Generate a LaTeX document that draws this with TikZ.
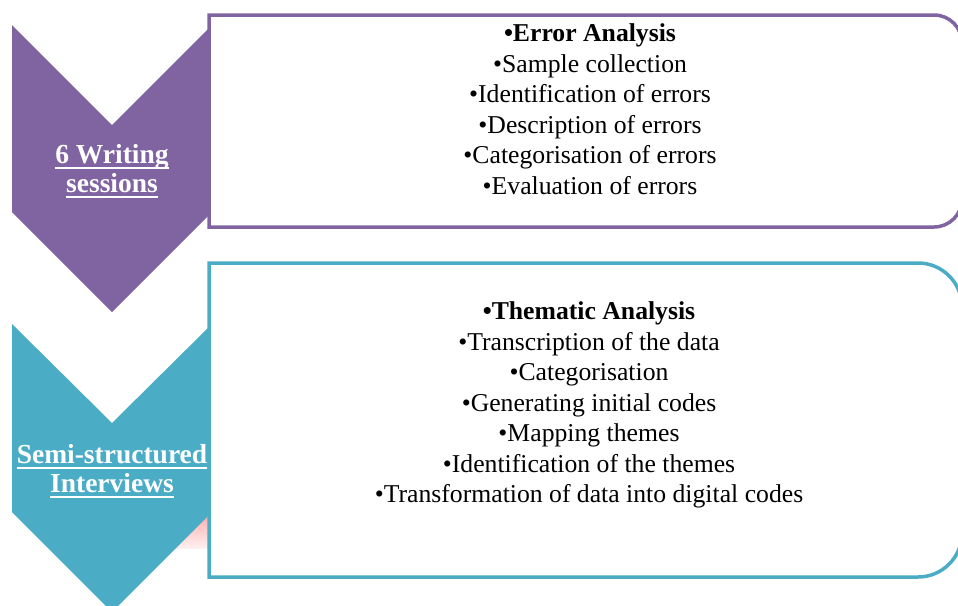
\documentclass[tikz,border=0pt]{standalone}
\usepackage{fontspec}
\setmainfont{Liberation Serif}
\definecolor{chvPurple}{HTML}{8064A2}
\definecolor{chvTeal}{HTML}{4BACC6}
\begin{document}
\begin{tikzpicture}[x=1pt,y=-1pt,
  panel/.style={draw=#1, line width=3.5pt, fill=white},
  itemtext/.style={anchor=base, inner sep=0pt, font=\fontsize{25.7}{30}\selectfont},
  headtext/.style={anchor=base, inner sep=0pt, font=\fontsize{25.7}{30}\selectfont\bfseries},
  labeltext/.style={anchor=base, inner sep=0pt, text=white, font=\fontsize{27.5}{32}\selectfont\bfseries},
  uline/.style={white, line width=1.6pt}]
\useasboundingbox (0,0) rectangle (958,605);

% faint pink band showing between the lower chevron and its panel
\shade[top color=red!30!white, bottom color=red!6!white] (160,517) rectangle (212,548);

% chevrons
\fill[chvPurple] (12,25) -- (112,125) -- (212,25) -- (212,212) -- (112,312) -- (12,212) -- cycle;
\fill[chvTeal] (12,324) -- (112,423) -- (212,324) -- (212,512) -- (112,612) -- (12,512) -- cycle;

% panels, rounded on the right side only
\draw[panel=chvPurple] (209,15) -- (934,15) arc[start angle=-90, end angle=0, radius=28]
  -- (962,199) arc[start angle=0, end angle=90, radius=28] -- (209,227) -- cycle;
\draw[panel=chvTeal] (209,263) -- (918,263) arc[start angle=-90, end angle=0, radius=44]
  -- (962,533) arc[start angle=0, end angle=90, radius=44] -- (209,577) -- cycle;

% chevron labels
\node[labeltext] (ws1) at (112,163) {6 Writing};
\node[labeltext] (ws2) at (112,192) {sessions};
\node[labeltext] (si1) at (112,463) {Semi-structured};
\node[labeltext] (si2) at (112,492) {Interviews};
\foreach \n in {ws1,ws2,si1,si2}
  \draw[uline] ([yshift=-5pt]\n.base west) -- ([yshift=-5pt]\n.base east);

% error analysis steps
\node[headtext] (ea0) at (590,41.5) {•Error Analysis};
\foreach \t [count=\i] in {Sample collection, Identification of errors,
    Description of errors, Categorisation of errors, Evaluation of errors}
  \node[itemtext] (ea\i) at (590,41.5+30.6*\i) {•\t};

% thematic analysis steps
\node[headtext] (ta0) at (589,319.5) {•Thematic Analysis};
\foreach \t [count=\i] in {Transcription of the data, Categorisation,
    Generating initial codes, Mapping themes, Identification of the themes,
    Transformation of data into digital codes}
  \node[itemtext] (ta\i) at (589,319.5+30.55*\i) {•\t};
\end{tikzpicture}
\end{document}
